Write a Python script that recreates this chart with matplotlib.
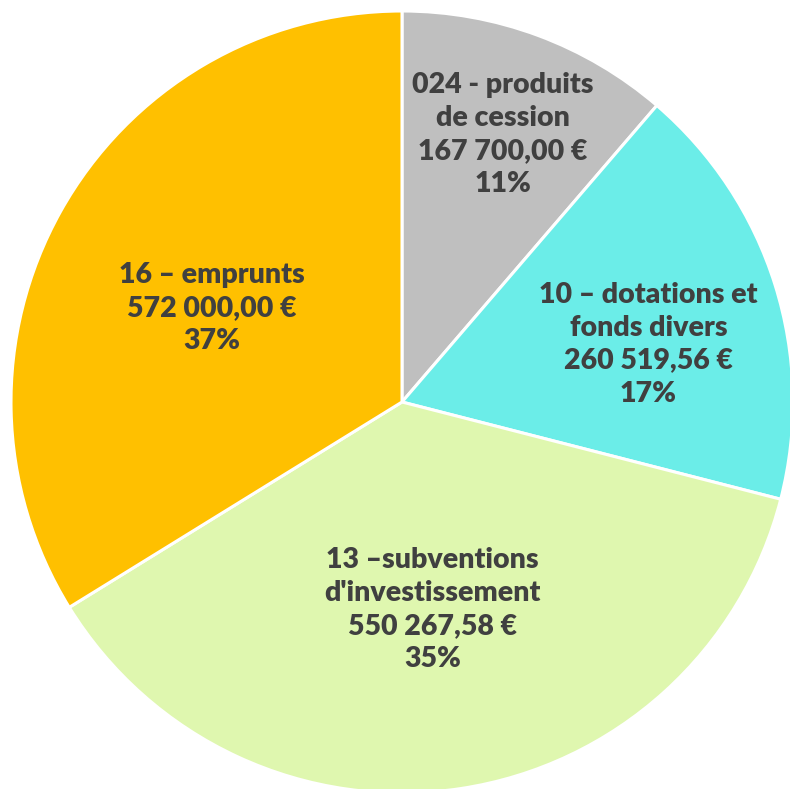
import matplotlib.pyplot as plt

# Data
labels = ["024 - produits\nde cession", "10 – dotations et\nfonds divers",
          "13 –subventions\nd'investissement", "16 – emprunts"]
amounts = [167700.00, 260519.56, 550267.58, 572000.00]
pct_labels = [11, 17, 35, 37]
# slice shares as drawn in the picture (%)
shares = [11.3, 17.7, 37.2, 33.8]
colors = ["#BFBFBF", "#6BEDE8", "#DFF7AF", "#FFC000"]
# label anchor points (fraction of radius, x/y)
label_pos = [(0.258, 0.685), (0.630, 0.148), (0.078, -0.530), (-0.487, 0.240)]

def fmt_eur(v):
    s = f"{v:,.2f}".replace(",", " ").replace(".", ",")
    return s + " €"

fig = plt.figure(figsize=(7.9, 7.89), dpi=100)
ax = fig.add_axes([11 / 790, -4 / 789, 782 / 790, 782 / 789])
ax.pie(shares, colors=colors, startangle=90, counterclock=False,
       wedgeprops=dict(edgecolor="white", linewidth=2.2))
ax.set_xlim(-1, 1)
ax.set_ylim(-1, 1)
ax.axis("off")

for lab, v, p, (x, y) in zip(labels, amounts, pct_labels, label_pos):
    txt = f"{lab}\n{fmt_eur(v)}\n{p}%"
    ax.text(x, y, txt, ha="center", va="center", fontsize=20.5,
            fontweight="heavy", family="Lato", color="#404040",
            linespacing=1.33)

fig.savefig("out.png", dpi=100)
